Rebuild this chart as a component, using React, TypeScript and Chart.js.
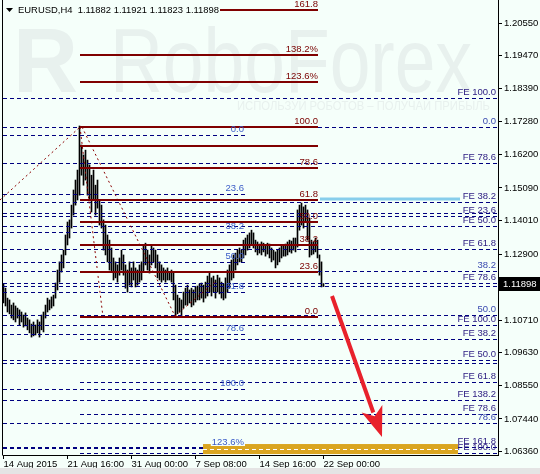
import React, { useEffect, useRef } from 'react';
import { Chart, registerables } from 'chart.js';

Chart.register(...registerables);

// ---------- data ----------
const highs = [
  1.1191, 1.1177, 1.1144, 1.1138, 1.1121, 1.1128, 1.1118, 1.1111, 1.1105, 1.1098,
  1.1088, 1.1095, 1.1078, 1.1072, 1.1058, 1.1065, 1.1055, 1.1072, 1.1065, 1.1088,
  1.1098, 1.1121, 1.1144, 1.1138, 1.1148, 1.1154, 1.1194, 1.1237, 1.1264, 1.1287,
  1.1303, 1.1353, 1.1396, 1.1403, 1.1452, 1.1502, 1.1535, 1.1568, 1.1714, 1.1651,
  1.1618, 1.1634, 1.1601, 1.1585, 1.1551, 1.1568, 1.1518, 1.1535, 1.1469, 1.1452,
  1.1403, 1.1386, 1.1353, 1.1336, 1.1310, 1.1277, 1.1264, 1.1254, 1.1277, 1.1303,
  1.1287, 1.1254, 1.1237, 1.1264, 1.1244, 1.1264, 1.1244, 1.1237, 1.1254, 1.1264,
  1.1320, 1.1326, 1.1303, 1.1287, 1.1320, 1.1310, 1.1303, 1.1287, 1.1264, 1.1254,
  1.1244, 1.1237, 1.1244, 1.1230, 1.1237, 1.1230, 1.1187, 1.1154, 1.1144, 1.1138,
  1.1164, 1.1177, 1.1187, 1.1171, 1.1177, 1.1171, 1.1181, 1.1184, 1.1191, 1.1194,
  1.1187, 1.1197, 1.1217, 1.1227, 1.1211, 1.1217, 1.1204, 1.1220, 1.1211, 1.1197,
  1.1191, 1.1211, 1.1237, 1.1254, 1.1270, 1.1287, 1.1293, 1.1303, 1.1310, 1.1303,
  1.1336, 1.1343, 1.1353, 1.1360, 1.1369, 1.1360, 1.1336, 1.1330, 1.1323, 1.1330,
  1.1326, 1.1320, 1.1326, 1.1323, 1.1310, 1.1303, 1.1297, 1.1303, 1.1310, 1.1316,
  1.1320, 1.1323, 1.1330, 1.1336, 1.1333, 1.1343, 1.1343, 1.1436, 1.1452, 1.1459,
  1.1446, 1.1452, 1.1436, 1.1409, 1.1336, 1.1330, 1.1343, 1.1336, 1.1287, 1.1264,
  1.11921,
];
const lows = [
  1.1128, 1.1118, 1.1098, 1.1092, 1.1078, 1.1072, 1.1065, 1.1078, 1.1055, 1.1065,
  1.1048, 1.1052, 1.1039, 1.1029, 1.1015, 1.1019, 1.1022, 1.1029, 1.1015, 1.1039,
  1.1032, 1.1078, 1.1098, 1.1105, 1.1111, 1.1118, 1.1144, 1.1171, 1.1197, 1.1230,
  1.1244, 1.1287, 1.1320, 1.1343, 1.1376, 1.1419, 1.1452, 1.1469, 1.1485, 1.1551,
  1.1518, 1.1535, 1.1485, 1.1469, 1.1429, 1.1469, 1.1419, 1.1442, 1.1386, 1.1376,
  1.1303, 1.1287, 1.1264, 1.1237, 1.1230, 1.1204, 1.1211, 1.1197, 1.1220, 1.1237,
  1.1220, 1.1177, 1.1164, 1.1187, 1.1181, 1.1204, 1.1181, 1.1187, 1.1197, 1.1204,
  1.1230, 1.1254, 1.1237, 1.1227, 1.1254, 1.1264, 1.1244, 1.1211, 1.1204, 1.1197,
  1.1204, 1.1197, 1.1204, 1.1204, 1.1197, 1.1138, 1.1082, 1.1092, 1.1098, 1.1085,
  1.1111, 1.1121, 1.1121, 1.1128, 1.1115, 1.1121, 1.1131, 1.1138, 1.1138, 1.1144,
  1.1131, 1.1144, 1.1151, 1.1164, 1.1151, 1.1164, 1.1144, 1.1164, 1.1158, 1.1144,
  1.1138, 1.1144, 1.1164, 1.1177, 1.1204, 1.1211, 1.1237, 1.1254, 1.1264, 1.1264,
  1.1277, 1.1287, 1.1303, 1.1310, 1.1320, 1.1310, 1.1297, 1.1287, 1.1293, 1.1287,
  1.1297, 1.1283, 1.1290, 1.1277, 1.1264, 1.1270, 1.1244, 1.1254, 1.1264, 1.1277,
  1.1283, 1.1283, 1.1287, 1.1297, 1.1293, 1.1303, 1.1297, 1.1313, 1.1369, 1.1386,
  1.1376, 1.1396, 1.1336, 1.1280, 1.1287, 1.1290, 1.1297, 1.1277, 1.1220, 1.1181,
  1.11823,
];

const xTickIdx = [0, 32, 64, 96, 128, 160];
const xTickLabels = ['14 Aug 2015', '21 Aug 16:00', '31 Aug 00:00', '7 Sep 08:00', '14 Sep 16:00', '22 Sep 00:00'];
const yTicks = [1.2055, 1.1947, 1.1839, 1.1728, 1.162, 1.1509, 1.1401, 1.129, 1.1071, 1.0963, 1.0855, 1.0744, 1.0636];

const titleText = 'EURUSD,H4  1.11882 1.11921 1.11823 1.11898';
const lastPrice = 1.11898;

// red Fibonacci retracement (solid)
const redLevelPrices = [1.10815, 1.12305, 1.13199, 1.13961, 1.14689, 1.15749, 1.16477, 1.17106, 1.18597, 1.19491, 1.20981];
const redLevelLabels = ['0.0', '23.6', '38.2', '50.0', '61.8', '78.6', '', '100.0', '123.6%', '138.2%', '161.8'];
const redRange = [38.25, 157.25];

// blue Fibonacci retracement (dashed, short)
const blueLevelPrices = [1.16841, 1.14888, 1.13629, 1.12636, 1.11642, 1.10252, 1.0843, 1.06476];
const blueLevelLabels = ['0.0', '23.6', '38.2', '50.0', '61.8', '78.6', '100.0', '123.6%'];
const blueRange = [-0.25, 120.75];

// Fibonacci expansion levels (dashed, long)
const feLevelPrices = [1.18067, 1.17106, 1.15914, 1.14623, 1.14259, 1.14159, 1.13828, 1.13066, 1.12338, 1.1194, 1.11841,
  1.10881, 1.1055, 1.10086, 1.09391, 1.09291, 1.08662, 1.08066, 1.07602, 1.07304, 1.0651, 1.06311];
const feLevelLabels = ['FE 100.0', '0.0', 'FE 78.6', 'FE 38.2', '', 'FE 23.6', 'FE 50.0', 'FE 61.8', '38.2', 'FE 78.6', '',
  '50.0', 'FE 100.0', 'FE 38.2', 'FE 50.0', '', 'FE 61.8', 'FE 138.2', 'FE 78.6', '78.6', 'FE 161.8', 'FE 100.0'];
const feLevelStart = [-0.25, -0.25, -0.25, -0.25, -0.25, -0.25, -0.25, -0.25, -0.25, -0.25, -0.25,
  -0.25, -0.25, 38.25, -0.25, -0.25, 38.25, -0.25, 38.25, -0.25, -0.25, 38.25];

// dotted trend lines of the Fibonacci tools: [x1, p1, x2, p2]
const dottedLines = [
  [-1.75, 1.14689, 38.25, 1.17106],
  [38.25, 1.17106, 49.75, 1.10815],
  [39.25, 1.17106, 85.75, 1.10848],
  [85.75, 1.10848, 105.75, 1.11974],
];

const blueHighlight = [158.25, 228.25, 1.1472];
const goldBand = [99.75, 227.25, 1.06608, 1.06277];
const arrowLine = [164.25, 1.1151, 189.25, 1.06841];

// ---------- style ----------
const FONT = '"Liberation Sans", Arial, sans-serif';
const FS = 9.5;
const BG = '#F5FFFA';

const overlayPlugin = {
  id: 'overlay',
  beforeDraw(chart: any) {
    const { ctx, width, height } = chart;
    ctx.save();
    ctx.fillStyle = BG;
    ctx.fillRect(0, 0, width, height);
    ctx.fillStyle = '#E4E4E4';
    ctx.fillRect(0, 468, width, 6);
    // watermark
    ctx.fillStyle = '#E8F1EE';
    ctx.textBaseline = 'alphabetic';
    ctx.textAlign = 'left';
    ctx.font = 'bold 90px "Liberation Sans", Arial, sans-serif';
    ctx.fillText('R', 13, 92, 66);
    ctx.font = '90px "Liberation Sans", Arial, sans-serif';
    ctx.fillText('RoboForex', 110, 92, 362);
    ctx.font = '12px "Liberation Sans", Arial, sans-serif';
    ctx.fillText('ИСПОЛЬЗУЙ РОБОТОВ – ПОЛУЧАЙ ПРИБЫЛЬ', 237, 110, 253);
    ctx.restore();
  },
  afterDatasetsDraw(chart: any) {
    const { ctx, chartArea } = chart;
    const xs = chart.scales.x;
    const ys = chart.scales.y;
    const X = (v: number) => xs.getPixelForValue(v);
    const Y = (v: number) => ys.getPixelForValue(v);
    const crisp = (v: number) => Math.round(v) + 0.5;
    ctx.save();
    ctx.font = `${FS}px ${FONT}`;
    ctx.textBaseline = 'middle';
    ctx.textAlign = 'right';

    // dashed FE lines
    ctx.lineWidth = 1;
    ctx.strokeStyle = '#000080';
    ctx.setLineDash([4, 3]);
    feLevelPrices.forEach((p, i) => {
      const y = crisp(Y(p));
      ctx.beginPath();
      ctx.moveTo(Math.max(chartArea.left, X(feLevelStart[i])), y);
      ctx.lineTo(chartArea.right, y);
      ctx.stroke();
    });
    blueLevelPrices.forEach((p) => {
      const y = crisp(Y(p));
      ctx.beginPath();
      ctx.moveTo(Math.max(chartArea.left, X(blueRange[0])), y);
      ctx.lineTo(X(blueRange[1]), y);
      ctx.stroke();
    });

    // dotted trend lines
    ctx.strokeStyle = '#8B0000';
    ctx.setLineDash([2, 3]);
    dottedLines.forEach((d) => {
      ctx.beginPath();
      ctx.moveTo(X(d[0]), Y(d[1]));
      ctx.lineTo(X(d[2]), Y(d[3]));
      ctx.stroke();
    });
    ctx.setLineDash([]);

    // red solid levels
    ctx.strokeStyle = '#800000';
    ctx.lineWidth = 2;
    redLevelPrices.forEach((p) => {
      const y = Math.round(Y(p));
      ctx.beginPath();
      ctx.moveTo(X(redRange[0]), y);
      ctx.lineTo(X(redRange[1]), y);
      ctx.stroke();
    });

    // light blue highlight
    ctx.strokeStyle = '#87CEEB';
    ctx.lineWidth = 3;
    ctx.beginPath();
    ctx.moveTo(X(blueHighlight[0]), Math.round(Y(blueHighlight[2])));
    ctx.lineTo(X(blueHighlight[1]), Math.round(Y(blueHighlight[2])));
    ctx.stroke();

    // gold band
    const gx1 = X(goldBand[0]);
    const gx2 = X(goldBand[1]);
    const gy1 = Y(goldBand[2]);
    const gy2 = Y(goldBand[3]);
    ctx.fillStyle = '#DAA520';
    ctx.fillRect(gx1, gy1, gx2 - gx1, gy2 - gy1);
    ctx.strokeStyle = '#FFFFFF';
    ctx.lineWidth = 1;
    ctx.setLineDash([4, 3]);
    ctx.beginPath();
    const wy = crisp((gy1 + gy2) / 2);
    ctx.moveTo(gx1, wy);
    ctx.lineTo(gx2, wy);
    ctx.stroke();
    ctx.setLineDash([]);

    // labels
    ctx.fillStyle = '#7A0000';
    redLevelPrices.forEach((p, i) => {
      if (!redLevelLabels[i]) return;
      ctx.fillText(redLevelLabels[i], X(redRange[1]), Math.round(Y(p)) - 6);
    });
    blueLevelPrices.forEach((p, i) => {
      const t = blueLevelLabels[i];
      const xr = X(blueRange[1]) - 1;
      const yy = Math.round(Y(p)) - 6;
      if (t.endsWith('%')) {
        const w = ctx.measureText(t).width;
        ctx.fillStyle = BG;
        ctx.fillRect(xr - w - 1, yy - 6, w + 2, 10);
      }
      ctx.fillStyle = '#3A5BC7';
      ctx.fillText(t, xr, yy);
    });
    feLevelPrices.forEach((p, i) => {
      const t = feLevelLabels[i];
      if (!t) return;
      ctx.fillStyle = t.startsWith('FE') ? '#2A1A80' : '#3A4AB0';
      ctx.fillText(t, chartArea.right - 2, Math.round(Y(p)) - 6);
    });
    ctx.restore();
  },
  afterDraw(chart: any) {
    const { ctx, chartArea } = chart;
    const xs = chart.scales.x;
    const ys = chart.scales.y;
    const X = (v: number) => xs.getPixelForValue(v);
    const Y = (v: number) => ys.getPixelForValue(v);
    ctx.save();
    // left frame
    ctx.strokeStyle = '#000';
    ctx.lineWidth = 1;
    ctx.beginPath();
    ctx.moveTo(2.5, 0);
    ctx.lineTo(2.5, chartArea.bottom + 0.5);
    ctx.stroke();

    // arrow
    const x1 = X(arrowLine[0]);
    const y1 = Y(arrowLine[1]);
    const x2 = X(arrowLine[2]);
    const y2 = Y(arrowLine[3]);
    const len = Math.hypot(x2 - x1, y2 - y1);
    const dx = (x2 - x1) / len;
    const dy = (y2 - y1) / len;
    const headL = 30;
    const headW = 11;
    const bx = x2 - dx * headL;
    const by = y2 - dy * headL;
    ctx.strokeStyle = '#E8212B';
    ctx.fillStyle = '#E8212B';
    ctx.lineWidth = 4;
    ctx.beginPath();
    ctx.moveTo(x1, y1);
    ctx.lineTo(bx + dx * 4, by + dy * 4);
    ctx.stroke();
    ctx.beginPath();
    ctx.moveTo(x2, y2);
    ctx.lineTo(bx - dy * headW, by + dx * headW);
    ctx.lineTo(bx + dx * 8, by + dy * 8);
    ctx.lineTo(bx + dy * headW, by - dx * headW);
    ctx.closePath();
    ctx.fill();

    // title
    ctx.font = `${FS}px ${FONT}`;
    ctx.textBaseline = 'middle';
    ctx.textAlign = 'left';
    ctx.fillStyle = BG;
    ctx.fillRect(4, 3, 216, 14);
    ctx.fillStyle = '#000';
    ctx.beginPath();
    ctx.moveTo(6, 8);
    ctx.lineTo(13, 8);
    ctx.lineTo(9.5, 12);
    ctx.closePath();
    ctx.fill();
    ctx.fillText(titleText, 18, 10, 201);

    // current price box
    const py = Y(lastPrice);
    ctx.fillStyle = '#000';
    ctx.fillRect(chartArea.right + 1, Math.round(py) - 7, 42, 14);
    ctx.fillStyle = '#FFF';
    ctx.fillText(lastPrice.toFixed(5), chartArea.right + 5, Math.round(py));
    ctx.restore();
  },
};

export default function App() {
  const ref = useRef<HTMLCanvasElement | null>(null);
  useEffect(() => {
    document.body.style.margin = '0';
    const canvas = ref.current;
    if (!canvas) return;
    const chart = new Chart(canvas, {
      type: 'bar',
      data: {
        datasets: [
          {
            data: highs.map((h, i) => ({ x: i, y: [lows[i], h] })) as any,
            backgroundColor: '#000',
            borderWidth: 0,
            barThickness: 1,
            grouped: false,
          } as any,
        ],
      },
      options: {
        responsive: false,
        animation: false,
        events: [],
        layout: { padding: { left: 3, top: 0, right: 0, bottom: 6 } },
        plugins: { legend: { display: false }, tooltip: { enabled: false }, title: { display: false } },
        scales: {
          x: {
            type: 'linear',
            position: 'bottom',
            min: -0.25,
            max: 247.25,
            offset: false,
            grid: { display: true, drawOnChartArea: false, drawTicks: true, tickLength: 4, color: '#000', offset: false },
            border: { display: true, color: '#000' },
            afterBuildTicks: (s: any) => {
              s.ticks = xTickIdx.map((v) => ({ value: v }));
            },
            afterFit: (s: any) => {
              s.height = 13;
              s.paddingLeft = 0;
              s.paddingRight = 0;
              s.paddingTop = 0;
              s.paddingBottom = 0;
            },
            ticks: {
              autoSkip: false,
              maxRotation: 0,
              minRotation: 0,
              align: 'start',
              padding: 0,
              color: '#000',
              font: { family: FONT, size: FS },
              callback: (_v: any, i: number) => xTickLabels[i],
            },
          } as any,
          y: {
            type: 'linear',
            position: 'right',
            min: 1.06245,
            max: 1.21312,
            grid: { display: true, drawOnChartArea: false, drawTicks: true, tickLength: 4, color: '#000' },
            border: { display: true, color: '#000' },
            afterBuildTicks: (s: any) => {
              s.ticks = yTicks.map((v) => ({ value: v }));
            },
            afterFit: (s: any) => {
              s.width = 42;
              s.paddingTop = 0;
              s.paddingBottom = 0;
              s.paddingLeft = 0;
              s.paddingRight = 0;
            },
            ticks: {
              autoSkip: false,
              padding: 2,
              color: '#000',
              font: { family: FONT, size: FS },
              callback: (v: any) => Number(v).toFixed(5),
            },
          } as any,
        },
      },
      plugins: [overlayPlugin],
    });
    return () => chart.destroy();
  }, []);
  return (
    <div style={{ position: 'fixed', left: 0, top: 0, width: 540, height: 474 }}>
      <canvas ref={ref} width={540} height={474} style={{ display: 'block', width: 540, height: 474 }} />
    </div>
  );
}
